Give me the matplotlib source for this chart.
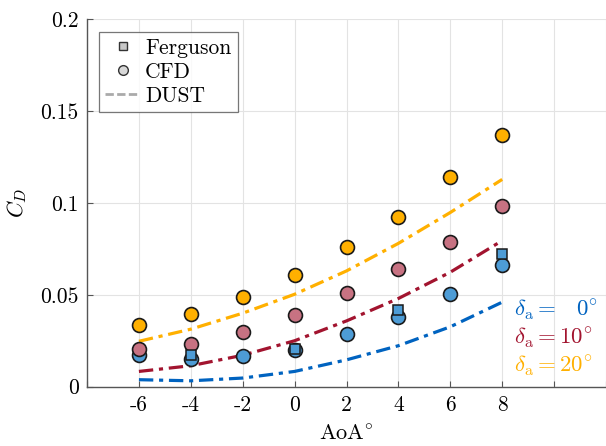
"""Drag coefficient vs angle of attack: Ferguson, CFD and DUST for three aileron deflections."""

import matplotlib

matplotlib.use("Agg")
import matplotlib.pyplot as plt
from matplotlib.lines import Line2D

plt.rcParams["font.family"] = "serif"
plt.rcParams["font.serif"] = ["cmr10", "DejaVu Serif"]
plt.rcParams["mathtext.fontset"] = "cm"
plt.rcParams["axes.unicode_minus"] = False

aoa = [-6, -4, -2, 0, 2, 4, 6, 8]

cfd_0 = [0.017, 0.015, 0.0166, 0.020, 0.0288, 0.038, 0.0506, 0.066]
cfd_10 = [0.0205, 0.0234, 0.0297, 0.039, 0.051, 0.064, 0.079, 0.0986]
cfd_20 = [0.0335, 0.0395, 0.049, 0.061, 0.076, 0.0926, 0.114, 0.137]

dust_0 = [0.0038, 0.0032, 0.0047, 0.0083, 0.0146, 0.0223, 0.0326, 0.046]
dust_10 = [0.0083, 0.0114, 0.0171, 0.025, 0.0358, 0.048, 0.0623, 0.0795]
dust_20 = [0.0247, 0.0313, 0.040, 0.0503, 0.063, 0.078, 0.0948, 0.1128]

ferguson_aoa = [-4, 0, 4, 8]
ferguson_0 = [0.0173, 0.0205, 0.0416, 0.072]

deflections = ["0", "10", "20"]
line_colors = ["#0063C0", "#A2142F", "#FFB000"]
face_colors = ["#4D9CD6", "#C77282", "#FFB000"]

fig = plt.figure(figsize=(6.06, 4.46), dpi=100)
ax = fig.add_axes([0.1436, 0.133, 0.8564, 0.824])

dust_series = [dust_0, dust_10, dust_20]
cfd_series = [cfd_0, cfd_10, cfd_20]
for dust, color in zip(dust_series, line_colors):
    ax.plot(aoa, dust, linestyle=(0, (4.5, 1.8, 1.3, 1.8)), color=color, linewidth=2.3, zorder=2)

for cfd, face in zip(cfd_series, face_colors):
    ax.plot(aoa, cfd, linestyle="none", marker="o", markersize=10,
            markerfacecolor=face, markeredgecolor="#1a1a1a", markeredgewidth=1.2, zorder=3)

ax.plot(ferguson_aoa, ferguson_0, linestyle="none", marker="s", markersize=7.5,
        markerfacecolor=face_colors[0], markeredgecolor="#1a1a1a", markeredgewidth=1.1, zorder=4)

ax.set_xlim(-8, 12)
ax.set_ylim(0, 0.2)
xticks = list(range(-8, 13, 2))
ax.set_xticks(xticks)
ax.set_xticklabels([str(t) if t in aoa else "" for t in xticks])
ax.set_yticks([0, 0.05, 0.1, 0.15, 0.2])
ax.set_yticklabels(["0", "0.05", "0.1", "0.15", "0.2"])
ax.tick_params(direction="in", length=4, labelsize=15.5, color="#555555", pad=6)
ax.grid(True, color="#e3e3e3", linewidth=0.8)
ax.set_axisbelow(True)
for side in ("top", "right"):
    ax.spines[side].set_visible(False)
for side in ("left", "bottom"):
    ax.spines[side].set_color("#555555")
    ax.spines[side].set_linewidth(1.0)

ax.set_xlabel(r"AoA$^{\circ}$", fontsize=16, labelpad=7)
ax.set_ylabel(r"$C_D$", fontsize=16, labelpad=8)

label_y = [0.0416, 0.026, 0.0108]
for deg, color, yy in zip(deflections, line_colors, label_y):
    pad = r"\;\;\;" if deg == "0" else ""
    ax.text(8.45, yy, r"$\delta_{\rm a} = " + pad + deg + r"^{\circ}$", color=color,
            fontsize=16.5, va="center", ha="left")

handles = [
    Line2D([], [], linestyle="none", marker="s", markersize=6,
           markerfacecolor="#c8c8c8", markeredgecolor="#333333", markeredgewidth=1.0),
    Line2D([], [], linestyle="none", marker="o", markersize=7,
           markerfacecolor="#d8d8d8", markeredgecolor="#333333", markeredgewidth=1.0),
    Line2D([], [], linestyle=(0, (3, 1.2, 3, 1.2)), color="#aaaaaa", linewidth=2),
]
leg = ax.legend(handles, ["Ferguson", "CFD", "DUST"], loc="upper left",
                bbox_to_anchor=(0.023, 0.965), fontsize=15.5, frameon=True, fancybox=False,
                edgecolor="#555555", handlelength=1.6, handletextpad=0.25,
                borderpad=0.3, labelspacing=0.2, borderaxespad=0)
leg.get_frame().set_linewidth(0.9)

fig.savefig("out.png", dpi=100)
